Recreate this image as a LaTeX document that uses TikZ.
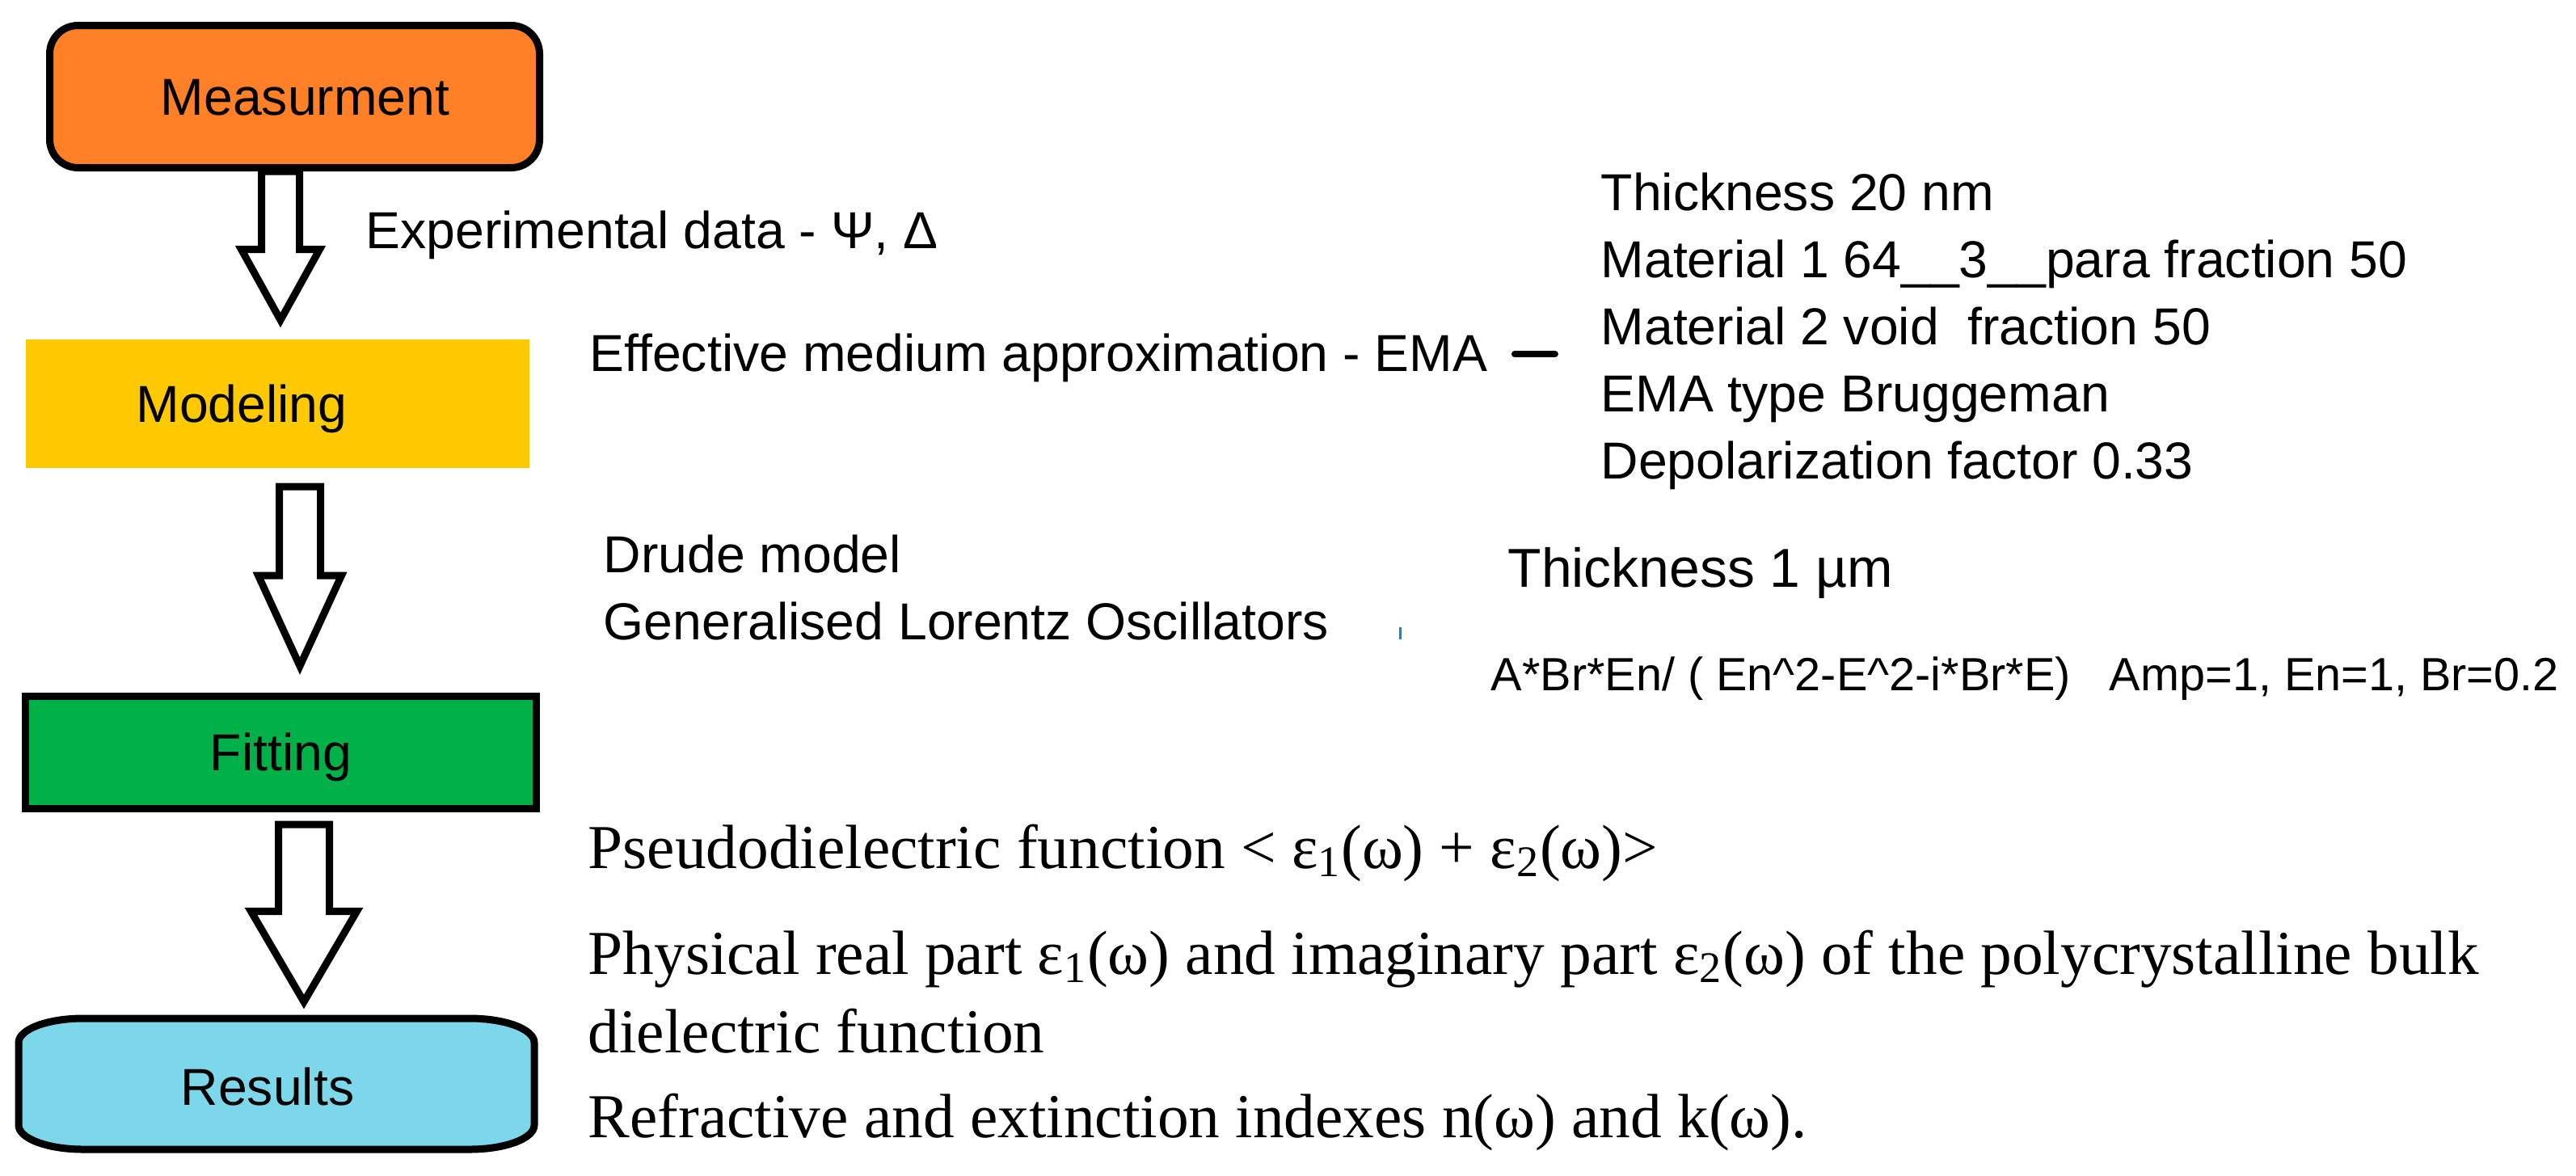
\documentclass[tikz,border=0pt]{standalone}
\usepackage{xcolor}
\usepackage{fontspec}
\setmainfont{Liberation Serif}
\newfontfamily\arialfont{Liberation Sans}
\usepackage{tikz}
\usetikzlibrary{calc,backgrounds}
\definecolor{measorange}{RGB}{255,128,39}
\definecolor{modelgold}{RGB}{255,201,0}
\definecolor{fitgreen}{RGB}{0,176,72}
\definecolor{rescyan}{RGB}{125,215,235}
\tikzset{
  flowbox/.style={inner sep=0pt, line width=0.9mm},
  boxtext/.style={font=\arialfont\fontsize{18.3}{22}\selectfont, text height=0.45cm, text depth=0pt, inner sep=0pt},
  sanstext/.style={font=\arialfont\fontsize{18.3}{22}\selectfont, anchor=base west, inner sep=0pt},
  serftext/.style={font=\fontsize{22}{26}\selectfont, anchor=base west, inner sep=0pt},
  hollow/.style={draw=black, fill=white, line width=0.9mm, line join=miter}
}
% block arrow: top point, tip point, half shaft, half head, head length
\newcommand{\hollowarrow}[5]{%
\draw[hollow] ($(#1)+(-#3,0)$) -- ($(#2)+(-#3,#5)$) -- ($(#2)+(-#4,#5)$) -- (#2)
-- ($(#2)+(#4,#5)$) -- ($(#2)+(#3,#5)$) -- ($(#1)+(#3,0)$) -- cycle;}

\begin{document}
\begin{tikzpicture}
\useasboundingbox (0,0) rectangle (31.87,-14.54);

% the four steps
\node[flowbox, draw, fill=measorange, rounded corners=3.5mm, minimum width=6.06cm, minimum height=1.76cm,
label={[boxtext,xshift=1.3mm]center:Measurment}] (meas) at (3.645,-1.195) {};
\node[flowbox, fill=modelgold, minimum width=6.23cm, minimum height=1.59cm,
label={[boxtext,xshift=-4.45mm]center:Modeling}] (model) at (3.435,-4.995) {};
\node[flowbox, draw, fill=fitgreen, minimum width=6.32cm, minimum height=1.39cm,
label={[boxtext]center:Fitting}] (fit) at (3.475,-9.31) {};
\node[flowbox, minimum width=6.29cm, minimum height=1.53cm,
label={[boxtext,xshift=-1.1mm,yshift=-0.4mm]center:Results}] (res) at (3.42,-13.41) {};
\begin{scope}[on background layer]
\draw[flowbox, fill=rescyan] ($(res.north west)+(0.8,0)$) -- ($(res.north east)+(-0.8,0)$)
arc[start angle=90, end angle=0, x radius=0.8, y radius=0.3] -- ($(res.south east)+(0,0.3)$)
arc[start angle=0, end angle=-90, x radius=0.8, y radius=0.3] -- ($(res.south west)+(0.8,0)$)
arc[start angle=270, end angle=180, x radius=0.8, y radius=0.3] -- ($(res.north west)+(0,-0.3)$)
arc[start angle=180, end angle=90, x radius=0.8, y radius=0.3] -- cycle;
\end{scope}

% arrows between the steps
\coordinate (a1top) at ($(meas.south)+(-0.175,0)$);
\coordinate (a1tip) at ($(a1top |- model.north)+(0,0.195)$);
\hollowarrow{a1top}{a1tip}{0.235}{0.485}{0.875}
\coordinate (a2top) at ($(model.south)+(0.275,-0.185)$);
\coordinate (a2tip) at ($(a2top |- fit.north)+(0,0.33)$);
\hollowarrow{a2top}{a2tip}{0.255}{0.515}{1.12}
\coordinate (a3top) at ($(fit.south)+(0.285,-0.15)$);
\coordinate (a3tip) at ($(a3top |- res.north)+(0,0.205)$);
\hollowarrow{a3top}{a3tip}{0.315}{0.655}{1.12}

% texts
\node[sanstext] (expdata) at (4.52,-3.07) {Experimental data - Ψ, Δ};
\node[sanstext] (ema) at (7.29,-4.59) {Effective medium approximation - EMA};
\foreach \txt [count=\i] in {Thickness 20 nm, Material 1 64\_\_3\_\_para fraction 50,
Material 2 void~~fraction 50, EMA type Bruggeman, Depolarization factor 0.33}
\node[sanstext] (emapar\i) at (19.80,{-2.60-0.83*(\i-1)}) {\txt};
\coordinate (emadash) at ($(ema.base east)+(0.83,0.21)$);
\draw[line width=0.8mm, line cap=round] ($(ema.base east)+(0.33,0.21)$) -- (emadash);

\node[sanstext] (drude) at (7.46,-7.08) {Drude model};
\node[sanstext] (lorentz) at (7.46,-7.91) {Generalised Lorentz Oscillators};
\draw[cyan!70!blue, line width=0.3mm] (17.32,-7.76) -- (17.32,-7.91);
\node[sanstext, font=\arialfont\fontsize{19.3}{22}\selectfont] (thick) at (18.65,-7.26) {Thickness 1 µm};
\node[sanstext, font=\arialfont\fontsize{16.4}{20}\selectfont] (lorform) at (18.44,-8.54)
{A*Br*En/ ( En\textasciicircum2-E\textasciicircum2-i*Br*E)\ \ \ Amp=1, En=1, Br=0.2};

\node[serftext] (pseudo) at (7.27,-10.74) {Pseudodielectric function < ε\textsubscript{1}(ω) + ε\textsubscript{2}(ω)>};
\node[serftext] (physreal) at (7.27,-12.05) {Physical real part ε\textsubscript{1}(ω) and imaginary part ε\textsubscript{2}(ω) of the polycrystalline bulk};
\node[serftext] (dielfun) at (7.27,-13.02) {dielectric function};
\node[serftext] (refrac) at (7.27,-14.07) {Refractive and extinction indexes n(ω) and k(ω).};
\end{tikzpicture}
\end{document}
